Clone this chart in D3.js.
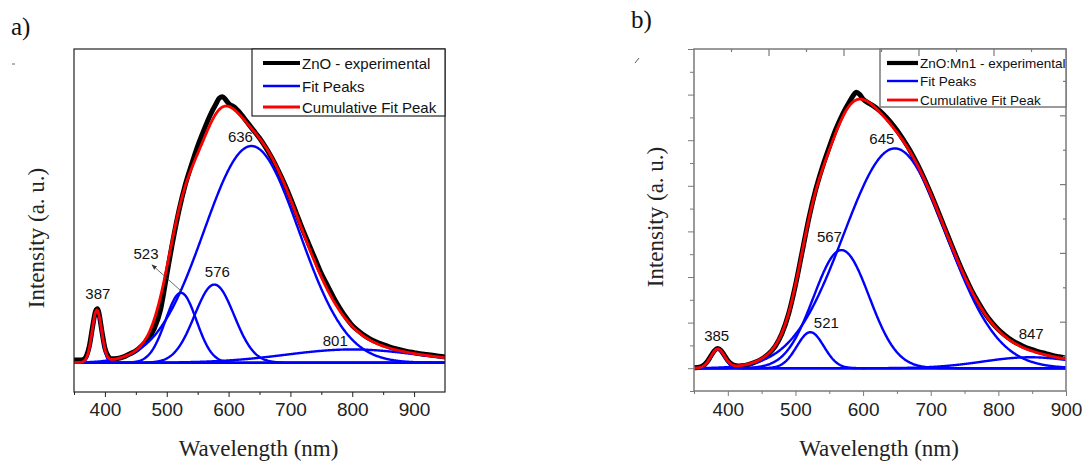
<!DOCTYPE html>
<html>
<head>
<meta charset="utf-8">
<script src="https://cdn.jsdelivr.net/npm/d3@7"></script>
<style>
	body { margin: 0; background: #fff; }
	svg { display: block; }
</style>
</head>
<body>
<svg id="chart" width="1083" height="465"></svg>
<script>
"use strict";

// ---- Panel a) ZnO : values ----
var wavelengthA = [350, 355, 360, 365, 370, 375, 380, 385, 388, 390, 395, 400, 405, 410,
	420, 430, 440, 450, 460, 470, 480, 490, 500, 510, 520, 530, 540, 550, 560, 570,
	580, 585, 590, 595, 600, 610, 620, 630, 640, 650, 660, 670, 680, 690, 700, 710,
	720, 730, 740, 750, 760, 770, 780, 790, 800, 810, 820, 830, 840, 850, 860, 870,
	880, 890, 900, 910, 920, 930, 940, 950];
var experimentalA = [0.010, 0.010, 0.010, 0.012, 0.025, 0.065, 0.135, 0.195, 0.203, 0.190, 0.120, 0.055, 0.025, 0.015,
	0.016, 0.022, 0.033, 0.045, 0.065, 0.090, 0.130, 0.200, 0.330, 0.460, 0.575, 0.670, 0.745, 0.815, 0.875, 0.930,
	0.975, 0.995, 1.000, 0.990, 0.975, 0.960, 0.935, 0.905, 0.875, 0.845, 0.810, 0.770, 0.725, 0.675, 0.620, 0.560,
	0.500, 0.445, 0.390, 0.335, 0.290, 0.245, 0.205, 0.170, 0.140, 0.120, 0.102, 0.088, 0.077, 0.068, 0.060, 0.053,
	0.047, 0.042, 0.038, 0.034, 0.031, 0.028, 0.025, 0.022];
// Fit peaks (Gaussian): centre, height, width (sigma)
var peakCentersA = [387, 523, 577, 637, 800];
var peakHeightsA = [0.194, 0.263, 0.294, 0.815, 0.050];
var peakWidthsA = [7.6, 25, 32, 77, 107];
var peakLabelsA = ["387", "523", "576", "636", "801"];
var xTicksA = [400, 500, 600, 700, 800, 900];

// ---- Panel b) ZnO:Mn1 ----
var wavelengthB = [350, 355, 360, 365, 370, 375, 380, 385, 390, 395, 400, 405, 410, 415,
	420, 430, 440, 450, 460, 470, 480, 490, 500, 510, 520, 530, 540, 550, 560, 570,
	580, 585, 590, 595, 600, 610, 620, 630, 640, 650, 660, 670, 680, 690, 700, 710,
	720, 730, 740, 750, 760, 770, 780, 790, 800, 810, 820, 830, 840, 850, 860, 870,
	880, 890, 900];
var experimentalB = [0.01, 0.015, 0.03, 0.07, 0.15, 0.27, 0.38, 0.43, 0.39, 0.28, 0.17, 0.095, 0.06, 0.05,
	0.055, 0.08, 0.13, 0.20, 0.31, 0.48, 0.76, 1.20, 1.82, 2.56, 3.30, 3.92, 4.42, 4.85, 5.25, 5.58,
	5.85, 5.97, 6.05, 6.00, 5.90, 5.80, 5.70, 5.57, 5.41, 5.22, 5.00, 4.76, 4.48, 4.17, 3.83, 3.47,
	3.10, 2.73, 2.37, 2.03, 1.72, 1.45, 1.21, 1.01, 0.85, 0.72, 0.61, 0.53, 0.46, 0.41, 0.36, 0.32,
	0.28, 0.25, 0.22];
var peakCentersB = [385, 522, 568, 647, 847];
var peakHeightsB = [0.41, 0.79, 2.59, 4.82, 0.24];
var peakWidthsB = [10, 20, 41, 76, 70];
var peakLabelsB = ["385", "521", "567", "645", "847"];
var xTicksB = [400, 500, 600, 700, 800, 900];

var legendA = ["ZnO - experimental", "Fit Peaks", "Cumulative Fit Peak"];
var legendB = ["ZnO:Mn1 - experimental", "Fit Peaks", "Cumulative Fit Peak"];

// Styling
var sans = "'Liberation Sans', Arial, sans-serif",
	serif = "'Liberation Serif', 'Times New Roman', serif",
	colExp = "#000",
	colFit = "#0000ff",
	colSum = "#ff0000";

var svg = d3.select("#chart");

/**
 * Gaussian fit peak
 */
function gauss(l, c, h, w) {
	return h * Math.exp(-(l - c) * (l - c) / (2 * w * w));
}

/**
 * Draws one panel
 * @param {object} p panel settings and data
 */
function drawPanel(p) {
	var x = d3.scaleLinear().domain(p.xDomain).range([p.left, p.right]);
	var y = d3.scaleLinear().domain(p.yDomain).range([p.bottom, p.top]);

	var g = svg.append("g");

	var clipId = "clip-" + p.id;
	svg.append("clipPath").attr("id", clipId)
		.append("rect")
		.attr("x", p.left).attr("y", p.top)
		.attr("width", p.right - p.left).attr("height", p.bottom - p.top);

	var plot = g.append("g").attr("clip-path", "url(#" + clipId + ")");

	var grid = d3.range(p.xDomain[0], p.xDomain[1] + 0.5, 1);

	var line = d3.line()
		.x(function (d) { return x(d[0]); })
		.y(function (d) { return y(d[1]); });

	// experimental
	var expPts = p.wl.map(function (l, i) { return [l, p.exp[i]]; });
	plot.append("path")
		.datum(expPts)
		.attr("d", line.curve(d3.curveMonotoneX))
		.attr("fill", "none")
		.attr("stroke", colExp)
		.attr("stroke-width", 5)
		.attr("stroke-linejoin", "round");

	line.curve(d3.curveLinear);

	// fit peaks
	p.centers.forEach(function (c, i) {
		plot.append("path")
			.datum(grid.map(function (l) { return [l, gauss(l, c, p.heights[i], p.widths[i])]; }))
			.attr("d", line)
			.attr("fill", "none")
			.attr("stroke", colFit)
			.attr("stroke-width", 2.4);
	});

	// cumulative fit
	plot.append("path")
		.datum(grid.map(function (l) {
			return [l, d3.sum(p.centers, function (c, i) { return gauss(l, c, p.heights[i], p.widths[i]); })];
		}))
		.attr("d", line)
		.attr("fill", "none")
		.attr("stroke", colSum)
		.attr("stroke-width", 2.8);

	// peak labels
	p.centers.forEach(function (c, i) {
		var px = x(c) + p.labelOffsets[i][0],
			py = y(p.heights[i]) + p.labelOffsets[i][1];
		g.append("text")
			.attr("x", px).attr("y", py)
			.attr("text-anchor", "middle")
			.attr("font-family", sans)
			.attr("font-size", 15)
			.attr("fill", "#111")
			.text(p.labels[i]);
	});

	// frame
	g.append("rect")
		.attr("x", p.left).attr("y", p.top)
		.attr("width", p.right - p.left).attr("height", p.bottom - p.top)
		.attr("fill", "none")
		.attr("stroke", p.frameColor)
		.attr("stroke-width", p.frameWidth);

	// bottom axis: major with labels, minor without
	var minor = p.ticks.map(function (t) { return t - 50; });
	var xMinor = d3.axisBottom(x).tickValues(minor).tickSize(3).tickFormat("");
	var xMajor = d3.axisBottom(x).tickValues(p.ticks).tickSize(5).tickPadding(p.tickPad);

	var gxm = g.append("g").attr("transform", "translate(0," + p.bottom + ")").call(xMinor);
	var gx = g.append("g").attr("transform", "translate(0," + p.bottom + ")").call(xMajor);
	[gxm, gx].forEach(function (a) {
		a.select(".domain").remove();
		a.selectAll("line").attr("stroke", p.frameColor);
	});
	gx.selectAll("text")
		.attr("font-family", sans)
		.attr("font-size", 19)
		.attr("fill", "#222");

	// axis titles
	g.append("text")
		.attr("x", (p.left + p.right) / 2 - 1)
		.attr("y", 456)
		.attr("text-anchor", "middle")
		.attr("font-family", serif)
		.attr("font-size", 23)
		.attr("fill", "#222")
		.text("Wavelength (nm)");

	g.append("text")
		.attr("transform", "translate(" + p.yTitle[0] + "," + p.yTitle[1] + ") rotate(-90)")
		.attr("text-anchor", "middle")
		.attr("font-family", serif)
		.attr("font-size", 23)
		.attr("fill", "#222")
		.text("Intensity (a. u.)");

	// panel letter
	g.append("text")
		.attr("x", p.letterPos[0]).attr("y", p.letterPos[1])
		.attr("font-family", serif)
		.attr("font-size", 25)
		.attr("fill", "#111")
		.text(p.letter);

	// legend
	var lg = g.append("g");
	lg.append("rect")
		.attr("x", p.legend.x).attr("y", p.top)
		.attr("width", p.right - p.legend.x).attr("height", p.legend.h)
		.attr("fill", "#fff")
		.attr("stroke", p.frameColor)
		.attr("stroke-width", p.frameWidth);
	var legCols = [colExp, colFit, colSum],
		legWidths = [4.2, 2.4, 2.8];
	p.legendText.forEach(function (t, i) {
		var ly = p.legend.rows[i];
		lg.append("line")
			.attr("x1", p.legend.x1).attr("x2", p.legend.x2)
			.attr("y1", ly).attr("y2", ly)
			.attr("stroke", legCols[i])
			.attr("stroke-width", legWidths[i]);
		lg.append("text")
			.attr("x", p.legend.x2 + 2)
			.attr("y", ly + p.legend.dy)
			.attr("font-family", sans)
			.attr("font-size", p.legend.fontSize)
			.attr("fill", "#111")
			.text(t);
	});

	return { x: x, y: y, g: g };
}

// ---- Panel a ----
var a = drawPanel({
	id: "a",
	left: 74, right: 445, top: 49, bottom: 392,
	xDomain: [350, 950], yDomain: [-0.11, 1.18],
	wl: wavelengthA, exp: experimentalA,
	centers: peakCentersA, heights: peakHeightsA, widths: peakWidthsA, labels: peakLabelsA,
	labelOffsets: [[1, -12], [-35, -34], [3, -8], [-11, -4], [-17, -3]],
	ticks: xTicksA, tickPad: 6,
	frameColor: "#222", frameWidth: 1.2,
	yTitle: [44, 238], letter: "a)", letterPos: [11, 35],
	legendText: legendA,
	legend: { x: 252, h: 67, x1: 263, x2: 300, rows: [63, 86, 107], dy: 6, fontSize: 15 }
});

// arrow from 523 label to its peak
svg.append("defs").append("marker")
	.attr("id", "arrowHead")
	.attr("viewBox", "0 0 10 10")
	.attr("refX", 9).attr("refY", 5)
	.attr("markerWidth", 7).attr("markerHeight", 7)
	.attr("orient", "auto")
	.append("path")
	.attr("d", "M0,1 L10,5 L0,9 Z")
	.attr("fill", "#333");

a.g.append("line")
	.attr("x1", a.x(peakCentersA[1]) + 1).attr("y1", a.y(peakHeightsA[1]) - 1)
	.attr("x2", a.x(peakCentersA[1]) - 29).attr("y2", a.y(peakHeightsA[1]) - 28)
	.attr("stroke", "#444")
	.attr("stroke-width", 0.8)
	.attr("marker-end", "url(#arrowHead)");

// small marks left of the axis titles
a.g.append("line").attr("x1", 12).attr("x2", 15).attr("y1", 64).attr("y2", 64)
	.attr("stroke", "#666").attr("stroke-width", 1);

// ---- Panel b ----
var b = drawPanel({
	id: "b",
	left: 694, right: 1066, top: 49, bottom: 391,
	xDomain: [350, 900], yDomain: [-0.5, 7],
	wl: wavelengthB, exp: experimentalB,
	centers: peakCentersB, heights: peakHeightsB, widths: peakWidthsB, labels: peakLabelsB,
	labelOffsets: [[-1, -9], [16, -4], [-12, -8], [-13, -4], [1, -18]],
	ticks: xTicksB, tickPad: 7,
	frameColor: "#7a7a7a", frameWidth: 1.5,
	yTitle: [663, 217], letter: "b)", letterPos: [631, 28],
	legendText: legendB,
	legend: { x: 880, h: 58, x1: 887, x2: 918, rows: [63, 81, 100], dy: 5, fontSize: 13.5 }
});

// left ticks (outward), intensity scale
var yLeftMajor = d3.axisLeft(b.y).tickValues(d3.range(0, 7.01, 1)).tickSize(6).tickFormat("");
var yLeftMinor = d3.axisLeft(b.y).tickValues(d3.range(-0.5, 7, 1)).tickSize(4).tickFormat("");
[yLeftMajor, yLeftMinor].forEach(function (ax) {
	var t = b.g.append("g").attr("transform", "translate(694,0)").call(ax);
	t.select(".domain").remove();
	t.selectAll("line").attr("stroke", "#7a7a7a");
});

// top and right ticks (inward) belong to other scales of the original plot
var xTop = d3.scaleLinear().domain([0, 10]).range([694, 1069]);
var yRight = d3.scaleLinear().domain([0, 5]).range([391, 47]);

b.g.selectAll(".topTick")
	.data(d3.range(1, 10))
	.enter().append("line")
	.attr("x1", function (d) { return xTop(d); })
	.attr("x2", function (d) { return xTop(d); })
	.attr("y1", 49)
	.attr("y2", function (d) { return d % 2 === 0 ? 56 : 52; })
	.attr("stroke", "#7a7a7a").attr("stroke-width", 1.2);

b.g.selectAll(".rightTick")
	.data(d3.range(0.5, 5, 0.5))
	.enter().append("line")
	.attr("x1", 1066)
	.attr("x2", function (d) { return d % 1 === 0 ? 1060 : 1063; })
	.attr("y1", function (d) { return yRight(d); })
	.attr("y2", function (d) { return yRight(d); })
	.attr("stroke", "#7a7a7a").attr("stroke-width", 1.2);

b.g.append("line").attr("x1", 635).attr("x2", 639).attr("y1", 63).attr("y2", 58)
	.attr("stroke", "#555").attr("stroke-width", 1);
</script>
</body>
</html>
